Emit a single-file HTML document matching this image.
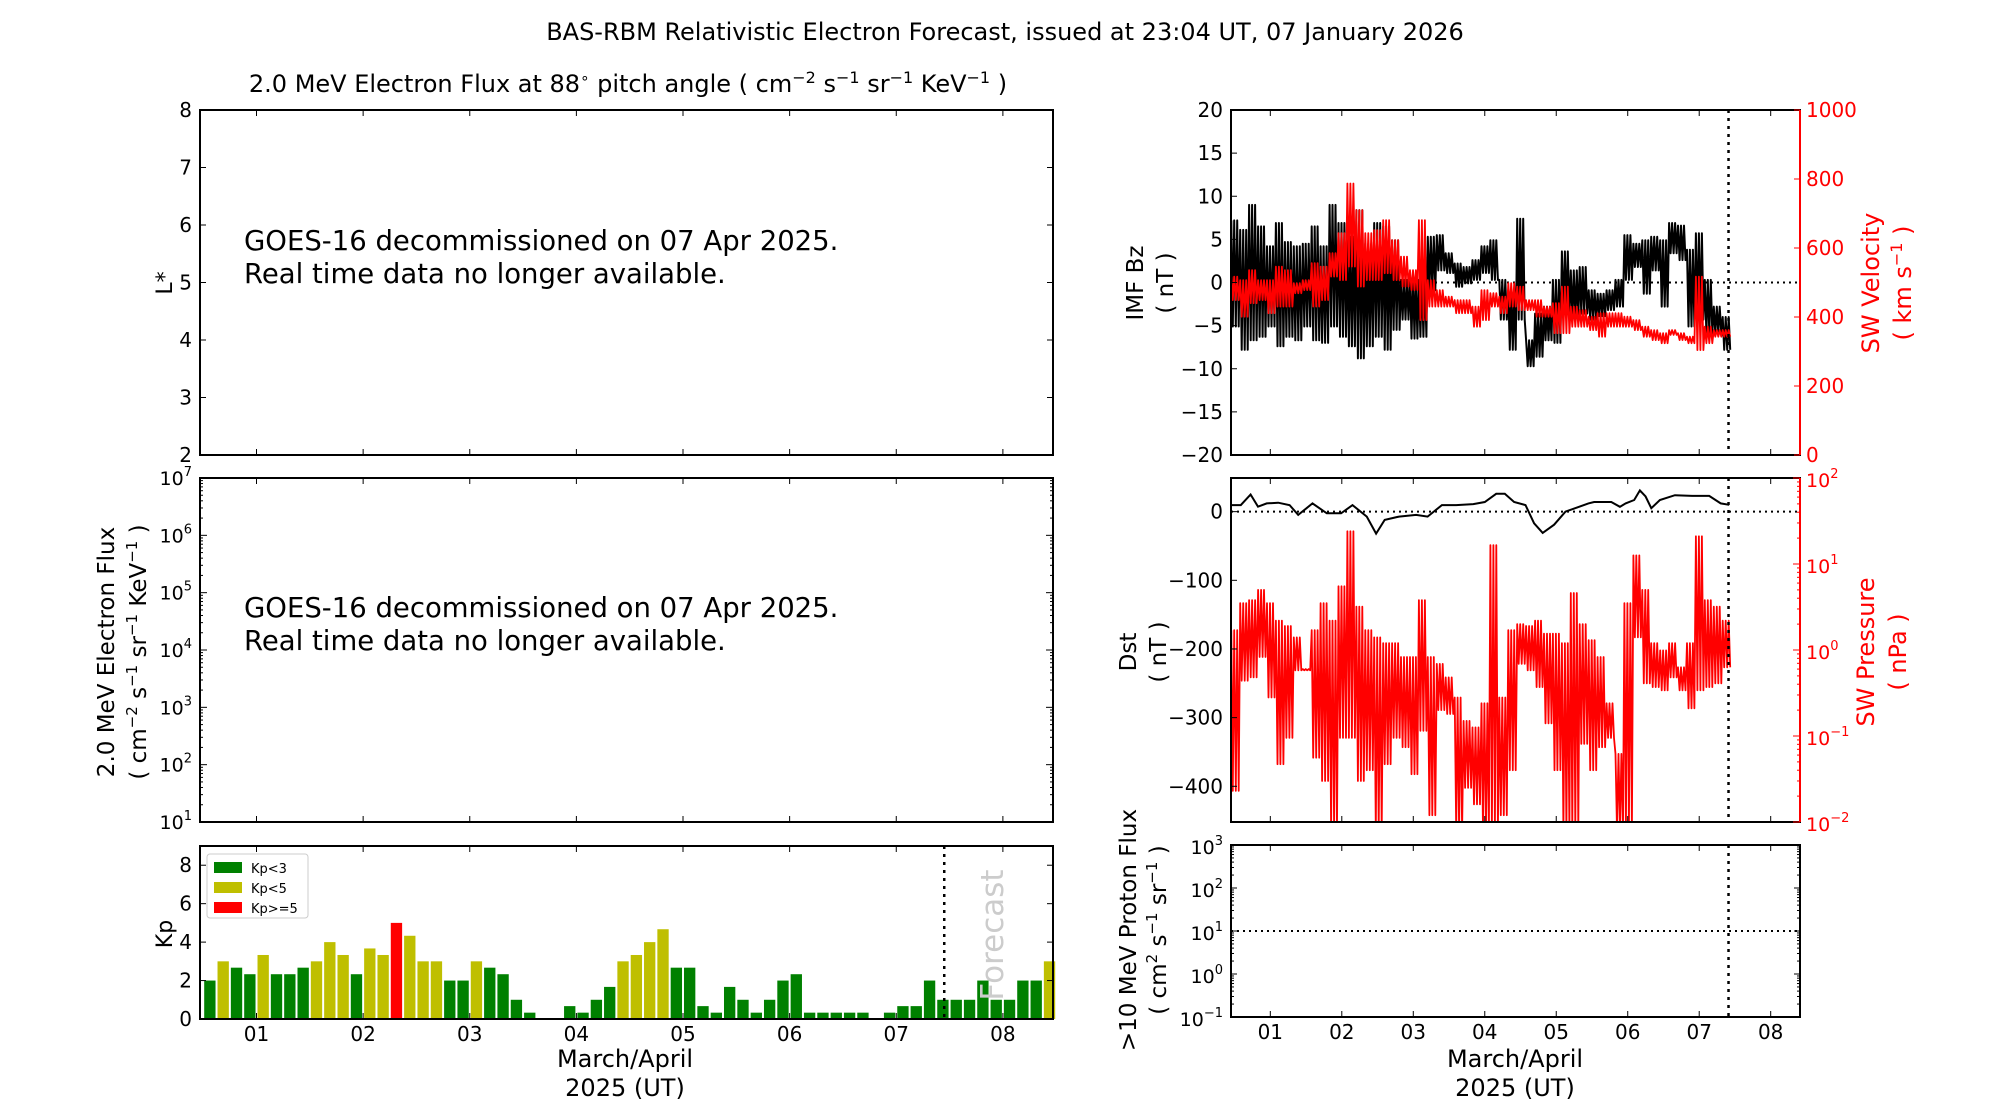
<!DOCTYPE html>
<html><head><meta charset="utf-8">
<style>
html,body{margin:0;padding:0;background:#fff;}
svg{display:block;font-family:"DejaVu Sans","Liberation Sans",sans-serif;}
</style></head>
<body>
<svg id="fig" xmlns="http://www.w3.org/2000/svg" width="2000" height="1100" viewBox="0 0 2000 1100">
<defs>
<clipPath id="clipR1"><rect x="1231" y="110" width="569" height="345"/></clipPath>
<clipPath id="clipR2"><rect x="1231" y="478" width="569" height="344"/></clipPath>
</defs>
<text x="1005" y="40" font-size="24" text-anchor="middle">BAS-RBM Relativistic Electron Forecast, issued at 23:04 UT, 07 January 2026</text>
<text x="628" y="92" font-size="24" text-anchor="middle">2.0 MeV Electron Flux at 88<tspan dy="-9" font-size="15">∘</tspan><tspan dy="9"> pitch angle ( cm</tspan><tspan dy="-9" font-size="16">−2</tspan><tspan dy="9"> s</tspan><tspan dy="-9" font-size="16">−1</tspan><tspan dy="9"> sr</tspan><tspan dy="-9" font-size="16">−1</tspan><tspan dy="9"> KeV</tspan><tspan dy="-9" font-size="16">−1</tspan><tspan dy="9"> )</tspan></text>
<g id="layer"></g>
</svg>
<script>
// ---------- data ----------
const kpValues = [2,3,2.67,2.33, 3.33,2.33,2.33,2.67,3,4,3.33,2.33, 3.67,3.33,5,4.33,3,3,2,2,
 3,2.67,2.33,1,0.33,0,0,0.67, 0.33,1,1.67,3,3.33,4,4.67,2.67, 2.67,0.67,0.33,1.67,1,0.33,1,2,
 2.33,0.33,0.33,0.33,0.33,0.33,0,0.33, 0.67,0.67,2,1,1,1,2,1, 1,2,2,3];
const kpStart = 0.5, kpStep = 0.125;
const dayTicks = ["01","02","03","04","05","06","07","08"];
const binStart = 0.45, binStep = 0.125;
const bzHi = [7.2,6.1,9,6.5,4.2,6.9,4.7,4.2,4.5,6.5,4.2,9,6.9,5.3,8.4,4.5,6.9,6.5,4.9,0.3,0.7,0.3,5.3,5.5,3.4,2.2,1.8,2.6,4.2,4.9,0.3,-0.9,7.4,-6.7,-3.6,-2.8,0.3,3.6,1.4,1.8,-0.9,-1.3,-0.9,0.3,5.5,4.5,4.9,5.3,4.9,6.9,6.6,3.8,5.7,0.3,-2.8,-4];
const bzLo = [-5.1,-7.8,-6.7,-6.3,-5.1,-7.4,-6.3,-6.7,-5.1,-6.7,-7,-5.1,-6.3,-7.4,-8.8,-7.4,-6.3,-7.8,-5.5,-4.3,-6.5,-6.3,-0.9,1.4,1.1,-0.5,-0.1,0.3,1.1,0.3,-4.3,-7.8,-4.3,-9.7,-8.6,-6.7,-7,-3.6,-4.3,-3.6,-4.3,-3.9,-3.2,-2.8,0.3,1.8,-1.3,1.4,-2.8,3.4,2.6,-5.1,-4.3,-5.9,-5.9,-7.8];
const vHi = [517,507,536,507,507,546,536,498,507,556,546,585,643,787,710,643,652,681,623,575,536,681,507,478,459,449,449,430,478,469,459,498,488,449,449,430,440,488,430,420,401,411,411,411,401,391,372,362,353,362,353,343,517,372,362,362];
const vLo = [449,401,440,449,411,430,430,469,478,430,449,517,507,546,488,507,507,527,507,488,478,391,430,430,430,411,411,372,391,430,411,430,420,420,401,401,353,353,372,372,362,343,372,372,372,362,343,333,324,348,333,324,304,324,343,343];
const pHi = [1.7,3.5,3.8,5.0,3.5,2.2,1.9,1.4,0.60,1.7,3.5,2.2,5.5,24,3.2,1.7,1.4,1.2,1.2,0.83,0.83,3.8,0.83,0.69,0.48,0.28,0.15,0.126,0.24,16.6,0.28,1.7,2.0,1.9,2.2,1.55,1.55,1.2,4.6,2.0,1.3,0.83,0.24,0.062,3.5,12.6,5.0,1.2,0.99,1.2,0.63,1.2,21,3.8,3.2,2.2];
const pLo = [0.023,0.44,0.48,0.83,0.28,0.047,0.095,0.58,0.58,0.056,0.030,0.008,0.095,0.095,0.030,0.040,0.008,0.047,0.095,0.074,0.036,0.115,0.012,0.20,0.18,0.008,0.025,0.016,0.008,0.008,0.012,0.040,0.69,0.58,0.37,0.14,0.040,0.008,0.008,0.081,0.040,0.074,0.095,0.008,0.008,1.4,0.41,0.37,0.34,0.48,0.34,0.21,0.34,0.37,0.41,0.63];
const dstTimes = [0.45,0.587,0.724,0.828,0.949,1.11,1.27,1.39,1.59,1.79,1.99,2.15,2.35,2.48,2.60,2.80,3.04,3.20,3.40,3.60,3.84,4.00,4.16,4.28,4.41,4.57,4.69,4.81,4.97,5.13,5.21,5.45,5.53,5.77,5.89,5.97,6.09,6.17,6.25,6.33,6.45,6.66,6.90,7.14,7.30,7.42];
const dstValues = [9.6,9.6,25,7.2,12,13,9.6,-4.8,12,-2.4,-2.4,9.6,-7.2,-32,-12,-7.2,-4.8,-7.2,9.6,9.6,11,14,26,26,14,9.6,-17,-31,-19,0,3,12,14,14,7,12,17,31,22,5,17,24,23,23,12,10];
const forecastLeft = 7.45, forecastRight = 7.41;

// ---------- layout ----------
const NS = "http://www.w3.org/2000/svg";
const layer = document.getElementById('layer');
const L1={x0:200,x1:1053,y0:110,y1:455}, L2={x0:200,x1:1053,y0:478,y1:822}, L3={x0:200,x1:1053,y0:846,y1:1019};
const R1={x0:1231,x1:1800,y0:110,y1:455}, R2={x0:1231,x1:1800,y0:478,y1:822}, R3={x0:1231,x1:1800,y0:845,y1:1017};
function mk(tag, attrs, parent){const e=document.createElementNS(NS,tag);for(const k in attrs)e.setAttribute(k,attrs[k]);(parent||layer).appendChild(e);return e;}
function lin(d0,d1,r0,r1){return v=>r0+(v-d0)/(d1-d0)*(r1-r0);}
function logs(d0,d1,r0,r1){return v=>r0+(Math.log10(v)-d0)/(d1-d0)*(r1-r0);}
const xL = lin(0.47,8.47,L1.x0,L1.x1);
const xR = lin(0.45,8.41,R1.x0,R1.x1);

function frame(P,name){const r=mk('rect',{x:P.x0,y:P.y0,width:P.x1-P.x0,height:P.y1-P.y0,fill:'none',stroke:'#000','stroke-width':2});

}
function ytick(P,y,len,color){mk('line',{x1:P.x0,x2:P.x0+len,y1:y,y2:y,stroke:color||'#000','stroke-width':1});}
function ytickR(P,y,len,color){mk('line',{x1:P.x1,x2:P.x1-len,y1:y,y2:y,stroke:color||'#000','stroke-width':1});}
function txt(x,y,s,opt){const t=mk('text',Object.assign({x:x,y:y,'font-size':20},opt||{}));t.textContent=s;return t;}
function supLabel(x,y,base,exp,anchor,color,name){const t=mk('text',{x:x,y:y,'font-size':19,'text-anchor':anchor,fill:color||'#000'});


const a=mk('tspan',{},t);a.textContent=base;const b=mk('tspan',{dy:-9,'font-size':13},t);b.textContent=exp;return t;}
function xticks(P,xs,labels){dayTicks.forEach((lab,i)=>{const x=xs(i+1);mk('line',{x1:x,x2:x,y1:P.y1,y2:P.y1-6,stroke:'#000'});mk('line',{x1:x,x2:x,y1:P.y0,y2:P.y0+6,stroke:'#000'});
if(labels){const t=txt(x,P.y1+22,lab,{'text-anchor':'middle'});

}});}
function logMinor(P,sy,d0,d1,side,color){for(let d=d0;d<d1;d++){for(let m=2;m<=9;m++){const y=sy(Math.pow(10,d)*m);if(side!=='right')ytick(P,y,3,color);if(side!=='left')ytickR(P,y,3,color);}}}

// ---------- Left panel 1 : L* ----------
frame(L1,'lstar-panel');
const yL1=lin(2,8,L1.y1,L1.y0);
for(let v=2;v<=8;v++){const y=yL1(v);ytick(L1,y,6);ytickR(L1,y,6);const t=txt(L1.x0-8,y+7,String(v),{'text-anchor':'end'});

}
xticks(L1,xL,false);
const ls=txt(172,283,'L*',{'font-size':22,'text-anchor':'middle',transform:'rotate(-90 172 283)'});


[[250,'GOES-16 decommissioned on 07 Apr 2025.'],[283,'Real time data no longer available.']].forEach(a=>{const t=txt(244,a[0],a[1],{'font-size':27.5});

});

// ---------- Left panel 2 : flux ----------
frame(L2,'electron-flux-panel');
const yL2=logs(1,7,L2.y1,L2.y0);
for(let d=1;d<=7;d++){const y=yL2(Math.pow(10,d));ytick(L2,y,7);ytickR(L2,y,7);supLabel(L2.x0-8,y+7,'10',String(d),'end','#000','flux-tick-label');}
logMinor(L2,yL2,1,7,'both');
xticks(L2,xL,false);
[[617,'GOES-16 decommissioned on 07 Apr 2025.'],[650,'Real time data no longer available.']].forEach(a=>{const t=txt(244,a[0],a[1],{'font-size':27.5});

});
const fl1=txt(114,652,'2.0 MeV Electron Flux',{'font-size':23,'text-anchor':'middle',transform:'rotate(-90 114 652)'});


const fl2=mk('text',{x:146,y:652,'font-size':23,'text-anchor':'middle',transform:'rotate(-90 146 652)'});


fl2.innerHTML='( cm<tspan dy="-9" font-size="15">−2</tspan><tspan dy="9"> s</tspan><tspan dy="-9" font-size="15">−1</tspan><tspan dy="9"> sr</tspan><tspan dy="-9" font-size="15">−1</tspan><tspan dy="9"> KeV</tspan><tspan dy="-9" font-size="15">−1</tspan><tspan dy="9"> )</tspan>';

// ---------- Left panel 3 : Kp ----------
const yKp=lin(0,9,L3.y1,L3.y0);
const barW = xL(kpStep)-xL(0);
kpValues.forEach((v,i)=>{const x=xL(kpStart+i*kpStep);const col=v>=5?'#ff0000':(v>=3?'#bfbf00':'#008000');
const r=mk('rect',{x:x+1,y:yKp(v),width:barW-2,height:yKp(0)-yKp(v),fill:col});

});
frame(L3,'kp-panel');
for(let v=0;v<=8;v+=2){const y=yKp(v);ytick(L3,y,6);ytickR(L3,y,6);const t=txt(L3.x0-8,y+7,String(v),{'text-anchor':'end'});

}
xticks(L3,xL,true);
const fx=xL(forecastLeft);
const fl=mk('line',{x1:fx,x2:fx,y1:L3.y0,y2:L3.y1,stroke:'#000','stroke-width':2.5,'stroke-dasharray':'3,5'});


const ft=txt(1003,935,'Forecast',{'font-size':31,fill:'#cccccc','text-anchor':'middle',transform:'rotate(-90 1003 935)'});


const kl=txt(172,934,'Kp',{'font-size':22,'text-anchor':'middle',transform:'rotate(-90 172 934)'});


const lg=mk('g',{});


mk('rect',{x:207,y:854,width:101,height:64,rx:3,fill:'#fff',stroke:'#ccc'},lg);
[['#008000','Kp<3'],['#bfbf00','Kp<5'],['#ff0000','Kp>=5']].forEach((e,i)=>{mk('rect',{x:214,y:862+i*20,width:28,height:11,fill:e[0]},lg);const t=txt(251,873+i*20,e[1],{'font-size':13});lg.appendChild(t);

});
[['March/April',1067],['2025 (UT)',1096]].forEach(a=>{const t=txt(625,a[1],a[0],{'font-size':24,'text-anchor':'middle'});

});

// ---------- helpers for noisy series ----------
function zigzag(hi,lo,sy){let d='';hi.forEach((h,i)=>{const t0=binStart+i*binStep;for(let k=0;k<3;k++){const a=xR(t0+binStep*(k/3+0.03)),b=xR(t0+binStep*(k/3+0.2));d+=(d?'L':'M')+a.toFixed(1)+','+sy(h).toFixed(1)+'L'+b.toFixed(1)+','+sy(lo[i]).toFixed(1);}});return d;}

// ---------- Right panel 1 : Bz / velocity ----------
const yBz=lin(-20,20,R1.y1,R1.y0), yV=lin(0,1000,R1.y1,R1.y0);
const g1=mk('g',{'clip-path':'url(#clipR1)'});
mk('line',{x1:R1.x0,x2:R1.x1,y1:yBz(0),y2:yBz(0),stroke:'#000','stroke-width':2,'stroke-dasharray':'2,4'},g1);
const bz=mk('path',{d:zigzag(bzHi,bzLo,yBz),fill:'none',stroke:'#000','stroke-width':2,'stroke-linejoin':'round'},g1);


const sv=mk('path',{d:zigzag(vHi,vLo,yV),fill:'none',stroke:'#ff0000','stroke-width':1.8,'stroke-linejoin':'round'},g1);


frame(R1,'imf-panel');
mk('line',{x1:R1.x1,x2:R1.x1,y1:R1.y0,y2:R1.y1,stroke:'#ff0000','stroke-width':2});
for(let v=-20;v<=20;v+=5){const y=yBz(v);ytick(R1,y,6);const t=txt(R1.x0-8,y+7,String(v).replace('-','−'),{'text-anchor':'end'});

}
for(let v=0;v<=1000;v+=200){const y=yV(v);ytickR(R1,y,6,'#ff0000');const t=txt(R1.x1+6,y+7,String(v),{fill:'#ff0000'});

}
xticks(R1,xR,false);
const bt=txt(1143,283,'IMF Bz',{'font-size':23,'text-anchor':'middle',transform:'rotate(-90 1143 283)'});


const bu=txt(1173,283,'( nT )',{'font-size':23,'text-anchor':'middle',transform:'rotate(-90 1173 283)'});


const vt=txt(1879,283,'SW Velocity',{'font-size':24,'text-anchor':'middle',fill:'#ff0000',transform:'rotate(-90 1879 283)'});


const vu=mk('text',{x:1911,y:283,'font-size':24,'text-anchor':'middle',fill:'#ff0000',transform:'rotate(-90 1911 283)'});


vu.innerHTML='( km s<tspan dy="-9" font-size="16">−1</tspan><tspan dy="9"> )</tspan>';

// ---------- Right panel 2 : Dst / pressure ----------
const yDst=lin(-452,49,R2.y1,R2.y0), yP=logs(-2,2,R2.y1,R2.y0);
const g2=mk('g',{'clip-path':'url(#clipR2)'});
mk('line',{x1:R2.x0,x2:R2.x1,y1:yDst(0),y2:yDst(0),stroke:'#000','stroke-width':2,'stroke-dasharray':'2,4'},g2);
const dp=mk('path',{d:dstTimes.map((t,i)=>(i?'L':'M')+xR(t).toFixed(1)+','+yDst(dstValues[i]).toFixed(1)).join(''),fill:'none',stroke:'#000','stroke-width':2},g2);


const pp=mk('path',{d:zigzag(pHi,pLo,yP),fill:'none',stroke:'#ff0000','stroke-width':1.8,'stroke-linejoin':'round'},g2);


frame(R2,'dst-panel');
mk('line',{x1:R2.x1,x2:R2.x1,y1:R2.y0,y2:R2.y1,stroke:'#ff0000','stroke-width':2});
for(let v=0;v>=-400;v-=100){const y=yDst(v);ytick(R2,y,6);const t=txt(R2.x0-8,y+7,String(v).replace('-','−'),{'text-anchor':'end'});

}
for(let d=-2;d<=2;d++){const y=yP(Math.pow(10,d));ytickR(R2,y,7,'#ff0000');supLabel(R2.x1+6,y+9,'10',String(d).replace('-','−'),'start','#ff0000','pressure-tick-label');}
logMinor(R2,yP,-2,2,'right','#ff0000');
xticks(R2,xR,false);
const dt=txt(1136,652,'Dst',{'font-size':23,'text-anchor':'middle',transform:'rotate(-90 1136 652)'});


const du=txt(1166,652,'( nT )',{'font-size':23,'text-anchor':'middle',transform:'rotate(-90 1166 652)'});


const pt=txt(1874,652,'SW Pressure',{'font-size':24,'text-anchor':'middle',fill:'#ff0000',transform:'rotate(-90 1874 652)'});


const pu=txt(1906,652,'( nPa )',{'font-size':24,'text-anchor':'middle',fill:'#ff0000',transform:'rotate(-90 1906 652)'});



// ---------- Right panel 3 : proton flux ----------
const yPr=logs(-1,3,R3.y1,R3.y0);
mk('line',{x1:R3.x0,x2:R3.x1,y1:yPr(10),y2:yPr(10),stroke:'#000','stroke-width':2,'stroke-dasharray':'2,4'});
frame(R3,'proton-panel');
for(let d=-1;d<=3;d++){const y=yPr(Math.pow(10,d));ytick(R3,y,6);ytickR(R3,y,6);supLabel(R3.x0-8,y+9,'10',String(d).replace('-','−'),'end','#000','proton-tick-label');}
logMinor(R3,yPr,-1,3,'both');
xticks(R3,xR,true);
const p1=txt(1136,930,'>10 MeV Proton Flux',{'font-size':23,'text-anchor':'middle',transform:'rotate(-90 1136 930)'});


const p2=mk('text',{x:1166,y:930,'font-size':23,'text-anchor':'middle',transform:'rotate(-90 1166 930)'});


p2.innerHTML='( cm<tspan dy="-9" font-size="15">2</tspan><tspan dy="9"> s</tspan><tspan dy="-9" font-size="15">−1</tspan><tspan dy="9"> sr</tspan><tspan dy="-9" font-size="15">−1</tspan><tspan dy="9"> )</tspan>';
[['March/April',1067],['2025 (UT)',1096]].forEach(a=>{const t=txt(1515,a[1],a[0],{'font-size':24,'text-anchor':'middle'});

});

// forecast lines on right panels
[R1,R2,R3].forEach(P=>{const x=xR(forecastRight);const l=mk('line',{x1:x,x2:x,y1:P.y0,y2:P.y1,stroke:'#000','stroke-width':2.5,'stroke-dasharray':'3,5'});

});
</script>
</body></html>
